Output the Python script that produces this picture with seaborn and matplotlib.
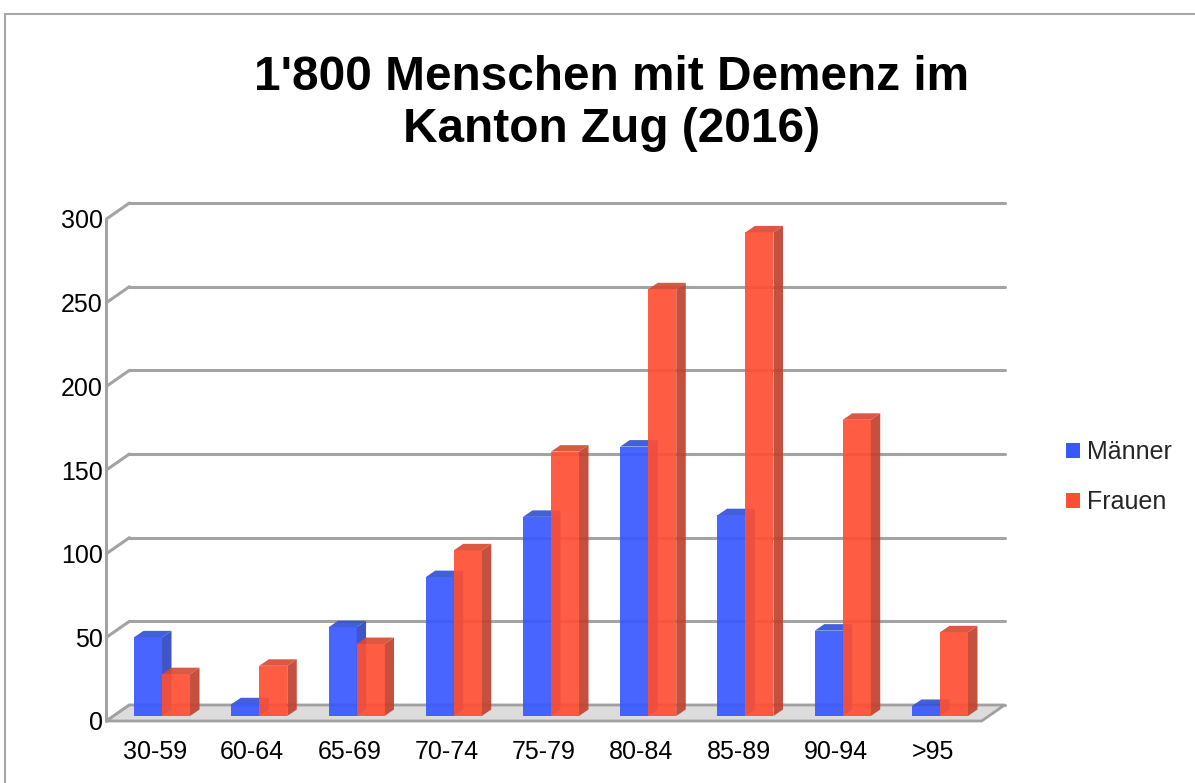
import matplotlib
matplotlib.use("Agg")
import numpy as np
import pandas as pd
import matplotlib.pyplot as plt
import matplotlib.transforms as mtransforms
from matplotlib.patches import Polygon, Rectangle, Patch
from matplotlib.lines import Line2D
import seaborn as sns

# ---- data -------------------------------------------------------------
age_groups = ["30-59", "60-64", "65-69", "70-74", "75-79", "80-84", "85-89", "90-94", ">95"]
maenner = [47, 7, 53, 83, 119, 161, 120, 51, 6]
frauen = [25, 30, 43, 99, 158, 255, 289, 177, 50]
series_labels = ["Männer", "Frauen"]
y_ticks = [0, 50, 100, 150, 200, 250, 300]
title = "1'800 Menschen mit Demenz im\nKanton Zug (2016)"

front_colors = ["#3858ff", "#ff4f33"]
side_colors = ["#2f47c4", "#c2412e"]
top_colors = ["#3352d6", "#d84a33"]

df = pd.DataFrame({
    "Alter": age_groups * 2,
    "Geschlecht": [series_labels[0]] * len(age_groups) + [series_labels[1]] * len(age_groups),
    "Anzahl": maenner + frauen,
})

# ---- style ------------------------------------------------------------
sns.set_theme(style="white")
plt.rcParams["font.family"] = ["Liberation Sans", "DejaVu Sans"]

W, H = 1195, 783
fig = plt.figure(figsize=(W / 100, H / 100), dpi=100)
fig.patch.set_facecolor("white")
ax = fig.add_axes([113.4 / W, 67 / H, 875.2 / W, 502 / H])
ax.set_facecolor("none")

sns.barplot(data=df, x="Alter", y="Anzahl", hue="Geschlecht", palette=front_colors,
            width=0.576, saturation=1, alpha=0.92, linewidth=0, edgecolor="none",
            legend=False, ax=ax)
ax.set_xlim(-0.5, len(age_groups) - 0.5)
ax.set_ylim(0, 300)
for s in ax.spines.values():
    s.set_visible(False)
ax.set_xlabel("")
ax.set_ylabel("")

# 3D-like offsets (pixels)
front_off = np.array([-7.0, -5.0])
back_off = np.array([16.0, 11.0])
depth = np.array([9.5, 6.5])
ident = mtransforms.IdentityTransform()
T = ax.transData.transform
x0, x1 = ax.get_xlim()

# floor
fl = T((x0, 0)); fr = T((x1, 0))
floor = Polygon([fl + front_off, fr + front_off, fr + back_off, fl + back_off],
                closed=True, facecolor="#dcdcdc", edgecolor="#a0a0a0", lw=2,
                transform=ident, zorder=0.6, clip_on=False)
ax.add_patch(floor)

# back wall grid lines + left wall connectors + front left edge
for v in y_ticks:
    a = T((x0, v)); b = T((x1, v))
    ax.add_line(Line2D([a[0] + back_off[0], b[0] + back_off[0]],
                       [a[1] + back_off[1], b[1] + back_off[1]],
                       color="#a3a3a3", lw=2.2, transform=ident, zorder=0.5, clip_on=False))
    ax.add_line(Line2D([a[0] + front_off[0], a[0] + back_off[0]],
                       [a[1] + front_off[1], a[1] + back_off[1]],
                       color="#a3a3a3", lw=2.2, transform=ident, zorder=0.5, clip_on=False))
a = T((x0, 0)); b = T((x0, 300))
ax.add_line(Line2D([a[0] + front_off[0], b[0] + front_off[0]],
                   [a[1] + front_off[1], b[1] + front_off[1]],
                   color="#a3a3a3", lw=2.2, transform=ident, zorder=0.7, clip_on=False))

# bar side and top faces
for k, cont in enumerate(ax.containers):
    for bar in cont:
        bar.set_zorder(2 + k)
        bx, bw, bh = bar.get_x(), bar.get_width(), bar.get_height()
        tl = T((bx, bh)); tr = T((bx + bw, bh)); br = T((bx + bw, 0))
        side = Polygon([br, tr, tr + depth, br + depth], closed=True,
                       facecolor=side_colors[k], edgecolor="none", alpha=0.92,
                       transform=ident, zorder=1.9 + k, clip_on=False)
        top = Polygon([tl, tr, tr + depth, tl + depth], closed=True,
                      facecolor=top_colors[k], edgecolor="none", alpha=0.92,
                      transform=ident, zorder=1.9 + k, clip_on=False)
        ax.add_patch(side)
        ax.add_patch(top)

# ticks
ax.set_yticks(y_ticks)
ax.set_yticklabels([str(v) for v in y_ticks])
ax.tick_params(axis="y", length=0, pad=2.5, labelsize=18, labelcolor="black")
ax.tick_params(axis="x", length=0, pad=13.7, labelsize=18, labelcolor="black")
shift = mtransforms.ScaledTranslation(front_off[0] / 100, front_off[1] / 100, fig.dpi_scale_trans)
for lbl in ax.get_yticklabels() + ax.get_xticklabels():
    lbl.set_transform(lbl.get_transform() + shift)
ax.grid(False)

# title
fig.text(612 / W, 1 - 104 / H, title, ha="center", va="center", fontsize=34.4,
         fontweight="bold", linespacing=1.2, color="black")

# legend
handles = [Patch(facecolor=c, edgecolor="none") for c in front_colors]
fig.legend(handles, series_labels, loc="center left", bbox_to_anchor=(1066 / W, 1 - 477 / H),
           frameon=False, fontsize=18, handlelength=0.55, handleheight=0.55,
           handletextpad=0.3, labelspacing=1.05, borderpad=0, borderaxespad=0)

# outer border
fig.add_artist(Rectangle((5 / W, -0.1), 1.2, 1 - 14 / H + 0.1, transform=fig.transFigure,
                         fill=False, edgecolor="#a8a8a8", lw=1.5))

fig.savefig("out.png", dpi=100)
